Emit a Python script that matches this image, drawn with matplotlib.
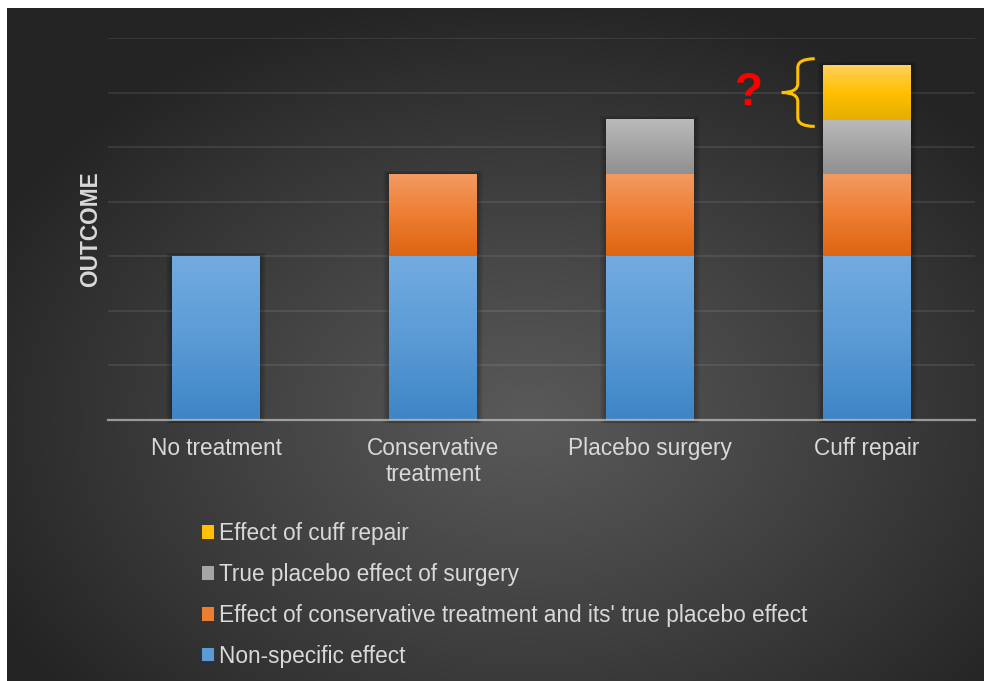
import numpy as np
import matplotlib.pyplot as plt
from matplotlib.colors import LinearSegmentedColormap
from matplotlib.patches import Patch, PathPatch, Rectangle
from matplotlib.path import Path

plt.rcParams["font.family"] = ["Liberation Sans", "DejaVu Sans"]

categories = ["No treatment", "Conservative\ntreatment", "Placebo surgery", "Cuff repair"]
non_specific = [3.0, 3.0, 3.0, 3.0]
conservative = [0.0, 1.5, 1.5, 1.5]
placebo = [0.0, 0.0, 1.0, 1.0]
cuff_repair = [0.0, 0.0, 0.0, 1.0]
series_labels = [
    "Non-specific effect",
    "Effect of conservative treatment and its' true placebo effect",
    "True placebo effect of surgery",
    "Effect of cuff repair",
]
# top / middle / bottom shades of each segment
series_shades = [
    ("#72abe0", "#5b9bd5", "#3e85c6"),
    ("#f39a63", "#ed7d31", "#de6512"),
    ("#bababa", "#a5a5a5", "#909090"),
    ("#ffd05a", "#ffc000", "#e6ae00"),
]
series_colors = ["#5b9bd5", "#ed7d31", "#a5a5a5", "#ffc000"]

W, H = 984, 681
fig = plt.figure(figsize=(W / 100, H / 100), dpi=100)
fig.patch.set_facecolor("white")

# dark panel with a soft radial glow
bg = fig.add_axes([7 / W, 0, (W - 7) / W, (H - 8) / H], zorder=-10)
yy, xx = np.mgrid[0:H - 8, 0:W - 7]
r = np.sqrt(((xx - 520) / 600.0) ** 2 + ((yy - 410) / 430.0) ** 2)
t = np.clip(r, 0, 1) ** 1.1
grey = 0x59 + (0x24 - 0x59) * t
bg.imshow(np.dstack([grey, grey, grey]) / 255.0, aspect="auto", interpolation="bilinear")
bg.set_axis_off()

ax = fig.add_axes([108 / W, 1 - 420 / H, 867 / W, (420 - 38) / H])
ax.set_facecolor("none")
x = np.arange(len(categories))
width = 0.405

# soft shadow behind the stacked columns
totals = np.sum([non_specific, conservative, placebo, cuff_repair], axis=0)
px_x, px_y = 1 / 217.0, 1 / 54.6
for xi, tot in zip(x, totals):
    for k in range(1, 7):
        ax.add_patch(Rectangle((xi - width / 2 - k * px_x, -3 * px_y),
                               width + 2 * k * px_x, tot + 3 * px_y + k * 0.6 * px_y,
                               facecolor="black", alpha=0.045, lw=0, zorder=1, clip_on=False))

bottom = np.zeros(len(categories))
for vals, shades in zip([non_specific, conservative, placebo, cuff_repair], series_shades):
    bars = ax.bar(x, vals, width, bottom=bottom, color=shades[1], zorder=2)
    cmap = LinearSegmentedColormap.from_list("seg", list(shades))
    grad = np.linspace(0, 1, 64).reshape(-1, 1)
    for rect, v in zip(bars, vals):
        if v <= 0:
            continue
        x0, y0 = rect.get_x(), rect.get_y()
        ax.imshow(grad, cmap=cmap, extent=[x0, x0 + rect.get_width(), y0, y0 + v],
                  aspect="auto", interpolation="bicubic", zorder=3, origin="upper")
    bottom += np.array(vals)

ax.set_xlim(-0.5, 3.5)
ax.set_ylim(0, 7)
ax.set_yticks(np.arange(1, 8))
ax.yaxis.grid(True, color="white", alpha=0.1, linewidth=1.2)
ax.set_axisbelow(True)
ax.tick_params(axis="y", left=False, labelleft=False)
ax.set_xticks(x)
ax.set_xticklabels(categories, fontsize=16.3, color="#d9d9d9", linespacing=1.12)
ax.tick_params(axis="x", length=0, pad=12.5)
for side in ["top", "right", "left"]:
    ax.spines[side].set_visible(False)
ax.spines["bottom"].set_color("#d0d0d0")
ax.spines["bottom"].set_alpha(0.65)
ax.spines["bottom"].set_linewidth(1.6)
ax.spines["bottom"].set_zorder(5)

ax.set_ylabel("OUTCOME", fontsize=16.3, fontweight="bold", color="#d9d9d9", labelpad=4)

# curly brace beside the cuff repair segment
seg_lo = non_specific[3] + conservative[3] + placebo[3]
seg_hi = seg_lo + cuff_repair[3]
pad = 0.12
top, bot = seg_hi + pad, seg_lo - pad
mid = (top + bot) / 2
xr = x[3] - width / 2 - 8 * px_x
xs = xr - 17 * px_x
xt = xs - 16 * px_x
cy = 9 * px_y
verts = [
    (xr, top), (xs, top), (xs, top - cy),
    (xs, mid + cy), (xs, mid), (xt, mid),
    (xs, mid), (xs, mid - cy),
    (xs, bot + cy), (xs, bot), (xr, bot),
]
codes = [Path.MOVETO, Path.CURVE3, Path.CURVE3, Path.LINETO, Path.CURVE3, Path.CURVE3,
         Path.CURVE3, Path.CURVE3, Path.LINETO, Path.CURVE3, Path.CURVE3]
ax.add_patch(PathPatch(Path(verts, codes), facecolor="none", edgecolor="#ffc000",
                       linewidth=2.2, zorder=6, clip_on=False))
ax.text(xt - 33 * px_x, mid, "?", color="#ff0000", fontsize=33, fontweight="bold",
        ha="center", va="center", zorder=6)

handles = [Patch(facecolor=c, edgecolor="none") for c in series_colors][::-1]
fig.legend(handles, series_labels[::-1], loc="upper left",
           bbox_to_anchor=(202 / W, 1 - 522 / H), frameon=False, fontsize=16.3,
           labelcolor="#d9d9d9", handlelength=0.55, handleheight=0.55,
           handletextpad=0.22, labelspacing=0.79, borderpad=0, borderaxespad=0)

fig.savefig("out.png", dpi=100)
